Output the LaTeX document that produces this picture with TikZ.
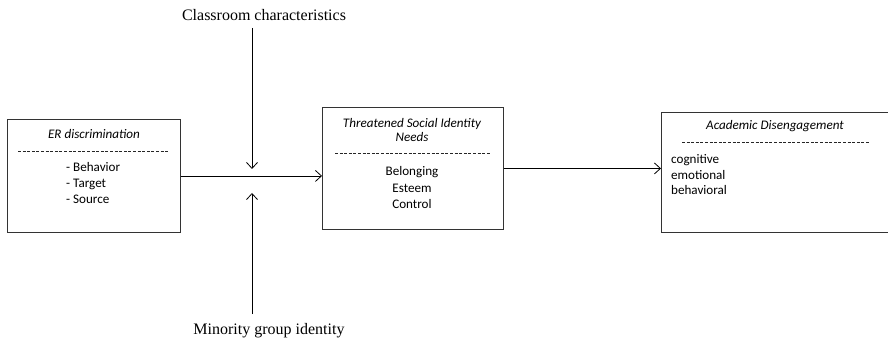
\documentclass[tikz,border=0pt]{standalone}
\usepackage{fontspec}
\setmainfont{Liberation Serif}
\newfontfamily\carlito{Carlito}
\usetikzlibrary{arrows.meta}
\begin{document}
\begin{tikzpicture}[x=1pt,y=-1pt,
  box/.style={draw=black!80,line width=0.9pt,inner sep=0pt,anchor=north west},
  btxt/.style={font=\carlito\fontsize{13.1}{16}\selectfont,inner sep=0pt,align=center},
  ltxt/.style={font=\carlito\fontsize{13.1}{15.5}\selectfont,inner sep=0pt,align=left},
  outer/.style={font=\fontsize{16}{19}\selectfont,inner sep=0pt},
  sep/.style={line width=0.6pt,dash pattern=on 3pt off 1.6pt,black!85},
  arr/.style={line width=0.8pt,-{Straight Barb[length=6pt,width=11pt,line width=0.8pt]}}]
\useasboundingbox (0,0) rectangle (888,347);
% boxes
\node[box,minimum width=173pt,minimum height=113pt] (b1) at (7,119) {};
\node[box,minimum width=181pt,minimum height=122pt] (b2) at (322,107) {};
\node[box,minimum width=232pt,minimum height=120pt] (b3) at (661,112) {};
% box 1 text
\node[btxt] (t1) at (94,134) {\itshape ER discrimination};
\draw[sep] (18,151) -- (169,151);
\node[ltxt,font=\carlito\fontsize{13.1}{16}\selectfont,anchor=west] (l1) at (66,183) {- Behavior\\- Target\\- Source};
% box 2 text
\node[btxt,font=\carlito\fontsize{13.1}{14.5}\selectfont] (t2) at (412,130) {\itshape Threatened Social Identity\\\itshape Needs};
\draw[sep] (335,153) -- (490,153);
\node[btxt,font=\carlito\fontsize{13.1}{16.5}\selectfont] (l2) at (412,188) {Belonging\\Esteem\\Control};
% box 3 text
\node[btxt] (t3) at (775,126) {\itshape Academic Disengagement};
\draw[sep] (682,142) -- (870,142);
\node[ltxt,anchor=west] (l3) at (671,175) {cognitive\\emotional\\behavioral};
% outer labels
\node[outer] (cls) at (264,15) {Classroom characteristics};
\node[outer] (min) at (269,331) {Minority group identity};
\coordinate (jt) at (252,169);
\coordinate (jb) at (252,193);
% connectors
\draw[arr] (b1.east) -- (b1.east -| b2.west);
\draw[arr] (b2.east) -- (b2.east -| b3.west);
\draw[arr] (jt |- 0,28) -- (jt);
\draw[arr] (jb |- 0,314) -- (jb);
\end{tikzpicture}
\end{document}
